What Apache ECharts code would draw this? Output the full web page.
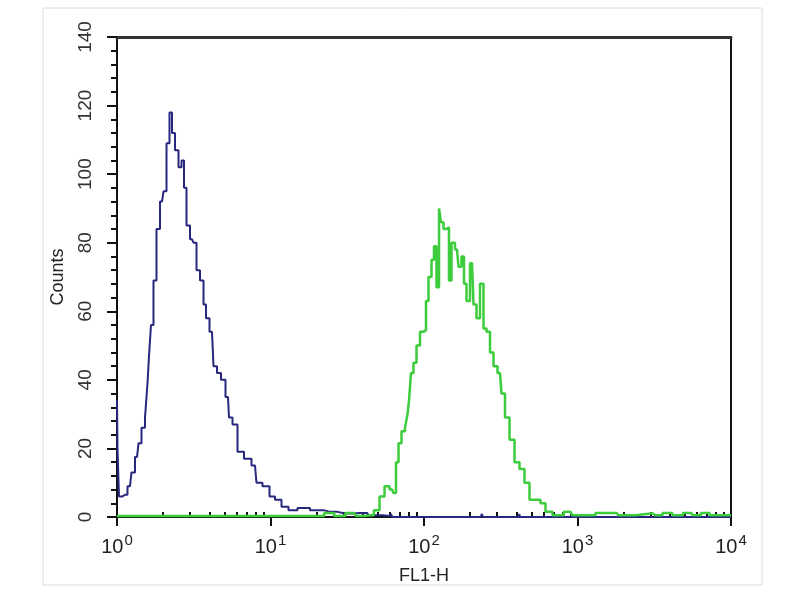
<!DOCTYPE html>
<html>
<head>
<meta charset="utf-8">
<script src="https://cdn.jsdelivr.net/npm/echarts@6/dist/echarts.min.js"></script>
<style>html,body{margin:0;padding:0;background:#fff}#c{width:800px;height:600px}</style>
</head>
<body>
<div id="c"></div>
<script>
// ---- data ----
const blueX = [1.0, 1.015, 1.046, 1.127, 1.215, 1.271, 1.35, 1.412, 1.477, 1.568, 1.592, 1.641, 1.69, 1.768, 1.85, 1.965, 2.055, 2.149, 2.248, 2.317, 2.46, 2.573, 2.692, 2.773, 2.901, 3.081, 3.223, 3.371, 3.579, 3.744, 3.858, 4.158, 4.349, 4.618, 4.904, 5.286, 5.447, 5.872, 6.329, 7.135, 7.925, 8.289, 9.489, 10.23, 11.19, 12.43, 13.81, 16.28, 20.09, 24.42, 30.58, 38.3, 47.96, 60.05, 61.5, 63, 235, 240, 245, 415, 420, 425, 10000];
const blueY = [34, 20, 6, 6.5, 9, 13, 17.5, 21.5, 26, 29, 39, 47, 56, 69, 84, 92, 95, 109, 118, 112, 107, 102, 104, 96, 85, 81, 80, 72, 69, 62, 58, 54, 44, 42, 40, 35, 29, 27, 19, 17, 15, 10, 9, 6, 5, 3, 2, 2.6, 2, 1.5, 1, 1.2, 0.5, 0.3, 0.9, 0, 0, 0.9, 0, 0, 0.9, 0, 0];

const greenX = [1, 20, 25, 27, 35, 37, 45, 49.4, 53.3, 57.4, 61.9, 64.7, 66.7, 69.8, 73, 77.5, 78.7, 81.1, 83.5, 87.4, 91.4, 97, 101.5, 104.6, 109.4, 114.5, 117.9, 123.4, 127.2, 131, 137, 143.3, 147.7, 154.5, 164.1, 171.6, 179.5, 185, 193.5, 205.5, 214.9, 224.8, 238.7, 249.7, 261.2, 277.3, 290.1, 312.7, 327.1, 347.3, 374.5, 403.6, 434.9, 468.8, 505.2, 552.9, 596, 642.5, 735, 900, 950, 1800, 1900, 3000, 3200, 4000, 4300, 5500, 5800, 7000, 7500, 10000];
const greenY = [0.3, 0.3, 1.2, 0.3, 1.2, 0.3, 0.5, 2, 6, 9, 8, 7, 16, 21.5, 25, 26, 30, 34, 42, 45, 50, 54, 54.5, 63, 70, 75, 79, 67, 90, 86, 84, 84.5, 69, 80, 78, 73, 76, 68, 63, 74, 62, 58, 68, 55, 54, 48, 44, 42, 36, 29, 22.5, 16, 14, 10, 5, 5, 4, 1.5, 0.5, 1.5, 0.5, 1.2, 0.5, 1, 0.5, 1.2, 0.5, 1.2, 0.5, 1.2, 0.5, 0.5];

const majorTickValues = [1, 10, 100, 1000, 10000];
const tickExponents = ['0', '1', '2', '3', '4'];
const minorTickValues = [2,3,4,5,6,7,8,9,20,30,40,50,60,70,80,90,200,300,400,500,600,700,800,900,2000,3000,4000,5000,6000,7000,8000,9000];
const yTickLabels = [0, 20, 40, 60, 80, 100, 120, 140];

const zip = (xs, ys) => xs.map((x, i) => [x, ys[i]]);
const FONT = 'Liberation Sans, Arial, sans-serif';

const chart = echarts.init(document.getElementById('c'), null, {renderer: 'canvas'});
chart.setOption({
  backgroundColor: '#fff',
  animation: false,
  graphic: [{
    type: 'rect', shape: {x: 43, y: 8, width: 719, height: 577},
    style: {fill: 'none', stroke: '#dcdcdc', lineWidth: 1}, silent: true, z: -1
  }],
  grid: {left: 117, right: 69, top: 37, bottom: 83},
  xAxis: [{
    type: 'log', logBase: 10, min: 1, max: 10000,
    name: 'FL1-H', nameLocation: 'middle', nameGap: 50,
    nameTextStyle: {fontFamily: FONT, fontSize: 18, color: '#222'},
    axisLine: {show: true, lineStyle: {color: '#111', width: 2}},
    axisTick: {show: true, length: 9, customValues: majorTickValues, lineStyle: {color: '#111', width: 2}},
    minorTick: {show: false},
    splitLine: {show: false},
    axisLabel: {
      customValues: majorTickValues, margin: 16,
      formatter: function (v) {
        const i = majorTickValues.indexOf(v);
        return '{b|10}{s|' + (i >= 0 ? tickExponents[i] : '') + '}';
      },
      rich: {
        b: {fontFamily: FONT, fontSize: 20, color: '#222'},
        s: {fontFamily: FONT, fontSize: 15, color: '#222', padding: [0, 0, 14, 1]}
      }
    }
  }, {
    type: 'log', logBase: 10, min: 1, max: 10000, gridIndex: 0,
    axisLine: {show: false},
    axisTick: {show: true, length: 5, customValues: minorTickValues, lineStyle: {color: '#111', width: 2}},
    axisLabel: {show: false}, splitLine: {show: false}
  }, {
    type: 'log', logBase: 10, min: 1, max: 10000, position: 'top',
    axisLine: {show: true, lineStyle: {color: '#333', width: 3}},
    axisTick: {show: false}, axisLabel: {show: false}, splitLine: {show: false}
  }],
  yAxis: [{
    type: 'value', min: 0, max: 140, interval: 20,
    name: 'Counts', nameLocation: 'middle', nameGap: 50, nameRotate: 90,
    nameTextStyle: {fontFamily: FONT, fontSize: 18, color: '#222'},
    axisLine: {show: true, lineStyle: {color: '#111', width: 2}},
    axisTick: {show: true, length: 10, lineStyle: {color: '#111', width: 2}},
    minorTick: {show: true, splitNumber: 5, length: 6, lineStyle: {color: '#111', width: 2}},
    splitLine: {show: false},
    axisLabel: {
      rotate: 90, margin: 22, fontFamily: FONT, fontSize: 19, color: '#333',
      formatter: v => String(yTickLabels[yTickLabels.indexOf(v)])
    }
  }, {
    type: 'value', min: 0, max: 140, position: 'right',
    axisLine: {show: true, lineStyle: {color: '#111', width: 2}},
    axisTick: {show: false}, axisLabel: {show: false}, splitLine: {show: false}
  }],
  series: [{
    type: 'line', name: 'control', data: zip(blueX, blueY), step: 'middle',
    showSymbol: false, xAxisIndex: 0, yAxisIndex: 0,
    lineStyle: {color: '#27277f', width: 2}, z: 2
  }, {
    type: 'line', name: 'sample', data: zip(greenX, greenY), step: 'middle',
    showSymbol: false, xAxisIndex: 0, yAxisIndex: 0,
    lineStyle: {color: '#3ccc3c', width: 2.5}, z: 3
  }]
});
</script>
</body>
</html>
